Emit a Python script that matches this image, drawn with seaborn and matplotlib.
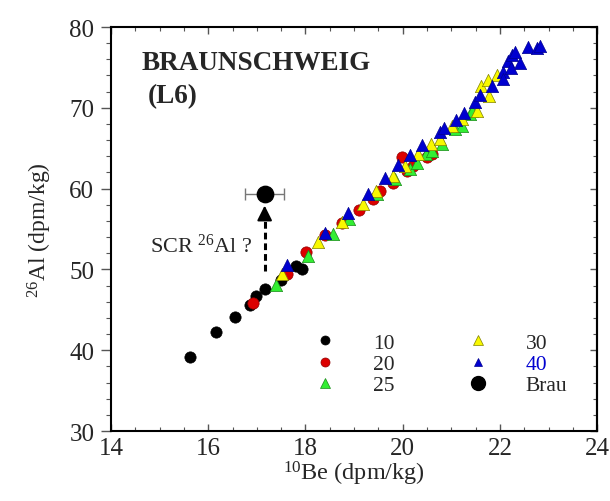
import matplotlib
matplotlib.use("Agg")
import matplotlib.pyplot as plt
from matplotlib.lines import Line2D
import seaborn as sns

# ---- data (10Be, 26Al in dpm/kg) ----
be_10 = [15.63, 16.16, 16.54, 16.85, 16.98, 17.16, 17.50, 17.80, 17.92]
al_10 = [39.2, 42.2, 44.1, 45.6, 46.7, 47.6, 48.7, 50.4, 50.1]

be_20 = [16.93, 17.63, 18.02, 18.41, 18.76, 19.11, 19.38, 19.53, 19.80, 19.98, 20.08, 20.22, 20.49, 20.60]
al_20 = [45.9, 49.4, 52.1, 54.2, 55.8, 57.3, 58.7, 59.7, 60.7, 63.9, 62.2, 62.8, 63.9, 64.3]

be_25 = [17.39, 18.05, 18.56, 18.90, 19.47, 19.84, 20.15, 20.29, 20.48, 20.60, 20.80, 21.08, 21.22, 21.39, 21.42]
al_25 = [48.1, 51.6, 54.4, 56.3, 59.3, 61.2, 62.4, 63.2, 64.3, 64.7, 65.5, 67.4, 67.8, 69.2, 69.6]

be_30 = [17.52, 18.25, 18.76, 19.19, 19.45, 19.81, 20.05, 20.32, 20.58, 20.76, 21.01, 21.21, 21.53, 21.62, 21.76, 21.78, 21.93]
al_30 = [49.4, 53.4, 55.9, 58.1, 59.7, 61.6, 62.8, 64.3, 65.5, 66.1, 67.8, 68.6, 69.6, 72.7, 73.4, 71.5, 74.0]

be_40 = [17.63, 18.41, 18.87, 19.28, 19.64, 19.91, 20.15, 20.39, 20.77, 20.84, 21.10, 21.26, 21.49, 21.59,
         21.83, 22.06, 22.07, 22.17, 22.24, 22.31, 22.42, 22.22, 22.57, 22.77, 22.83]
al_40 = [50.6, 54.5, 57.0, 59.3, 61.3, 62.9, 64.1, 65.4, 67.0, 67.5, 68.5, 69.4, 70.7, 71.6,
         72.7, 74.4, 73.6, 75.8, 76.5, 76.9, 75.5, 74.9, 77.5, 77.4, 77.6]

brau_be = [17.16]
brau_al = [59.3]
brau_be_err = 0.40

arrow_be = 17.16
arrow_from = 49.8
arrow_to = 57.9

legend_labels = ["10", "20", "25", "30", "40", "Brau"]

# ---- style ----
sns.set_style("ticks")
plt.rcParams["font.family"] = ["Liberation Serif", "DejaVu Serif"]
plt.rcParams["mathtext.fontset"] = "custom"
plt.rcParams["mathtext.rm"] = "Liberation Serif"
plt.rcParams["mathtext.it"] = "Liberation Serif:italic"
plt.rcParams["mathtext.bf"] = "Liberation Serif:bold"

fig = plt.figure(figsize=(6.10, 5.02), dpi=100)
ax = fig.add_axes([0.182, 0.1394, 0.797, 0.8048])

red, red_e = "#dc0000", "#900000"
green, green_e = "#33ee33", "#1a8a1a"
yellow, yellow_e = "#f8f800", "#808000"
blue, blue_e = "#0000d0", "#000090"

sns.scatterplot(x=be_10, y=al_10, ax=ax, color="black", marker="o", s=66, edgecolor="black", linewidth=0.5, legend=False, zorder=3)
sns.scatterplot(x=be_20, y=al_20, ax=ax, color=red, marker="o", s=66, edgecolor=red_e, linewidth=0.5, legend=False, zorder=3)
sns.scatterplot(x=be_25, y=al_25, ax=ax, color=green, marker="^", s=78, edgecolor=green_e, linewidth=0.5, legend=False, zorder=3)
sns.scatterplot(x=be_30, y=al_30, ax=ax, color=yellow, marker="^", s=78, edgecolor=yellow_e, linewidth=0.5, legend=False, zorder=3)
sns.scatterplot(x=be_40, y=al_40, ax=ax, color=blue, marker="^", s=78, edgecolor=blue_e, linewidth=0.5, legend=False, zorder=3)

# Brau point with horizontal error bar
ax.errorbar(brau_be, brau_al, xerr=brau_be_err, fmt="none", ecolor="#777777", elinewidth=1.0, capsize=4, capthick=1.0, zorder=2)
sns.scatterplot(x=brau_be, y=brau_al, ax=ax, color="black", marker="o", s=140, edgecolor="black", legend=False, zorder=4)

# dashed arrow
ax.plot([arrow_be, arrow_be], [arrow_from, arrow_to - 1.6], color="black", lw=2.2, ls=(0, (2.2, 1.3)), zorder=2)
ax.annotate("", xy=(arrow_be, arrow_to), xytext=(arrow_be, arrow_to - 1.8),
            arrowprops=dict(arrowstyle="-|>,head_length=0.9,head_width=0.45", color="black", lw=1.5, shrinkA=0, shrinkB=0))

ax.text(14.80, 53.0, "SCR $^{26}$Al ?", fontsize=16, va="center", ha="left")

ax.text(0.063, 0.896, "BRAUNSCHWEIG", transform=ax.transAxes, fontsize=19.5, fontweight="bold", va="baseline", ha="left")
ax.text(0.076, 0.814, "(L6)", transform=ax.transAxes, fontsize=19.5, fontweight="bold", va="baseline", ha="left")

# axes
ax.set_xlim(14, 24)
ax.set_ylim(30, 80)
ax.set_xticks([14, 16, 18, 20, 22, 24])
ax.set_xticks([14 + 0.5 * i for i in range(21)], minor=True)
ax.set_yticks([30, 40, 50, 60, 70, 80])
ax.set_yticks([30 + 2 * i for i in range(26)], minor=True)
ax.set_xlabel("$^{10}$Be (dpm/kg)", fontsize=17.5, labelpad=0)
ax.set_ylabel("$^{26}$Al (dpm/kg)", fontsize=17, labelpad=11)

for sp in ax.spines.values():
    sp.set_linewidth(1.5)
    sp.set_color("black")

ax.tick_params(axis="x", which="both", direction="in", top=True, bottom=True, labelsize=18, pad=4, color="#555555")
ax.tick_params(axis="x", which="major", length=5, width=1)
ax.tick_params(axis="x", which="minor", length=3, width=0.8)
ax.tick_params(axis="y", which="both", direction="out", left=True, right=False, labelsize=18, pad=5, color="#555555")
ax.tick_params(axis="y", which="major", length=7, width=1)
ax.tick_params(axis="y", which="minor", length=3.5, width=0.8)

sec = ax.secondary_yaxis("right")
sec.set_yticks([30, 40, 50, 60, 70, 80])
sec.set_yticks([30 + 2 * i for i in range(26)], minor=True)
sec.tick_params(axis="y", which="both", direction="in", labelright=False, color="#555555")
sec.tick_params(axis="y", which="major", length=5, width=1)
sec.tick_params(axis="y", which="minor", length=3, width=0.8)
sec.spines["right"].set_linewidth(1.5)

# legend
handles = [
    Line2D([], [], ls="none", marker="o", ms=6.5, mfc="black", mec="black", mew=0.5),
    Line2D([], [], ls="none", marker="o", ms=6.5, mfc=red, mec=red_e, mew=0.5),
    Line2D([], [], ls="none", marker="^", ms=7, mfc=green, mec=green_e, mew=0.5),
    Line2D([], [], ls="none", marker="^", ms=7, mfc=yellow, mec=yellow_e, mew=0.5),
    Line2D([], [], ls="none", marker="^", ms=6, mfc=blue, mec=blue_e, mew=0.5),
    Line2D([], [], ls="none", marker="o", ms=10, mfc="black", mec="black"),
]
leg = ax.legend(handles, legend_labels, ncol=2, frameon=False, fontsize=15.5,
                loc="upper left", bbox_to_anchor=(0.419, 0.243), borderpad=0, borderaxespad=0,
                handlelength=1.0, handletextpad=1.7, columnspacing=3.4, labelspacing=0.05)
leg.get_texts()[4].set_color(blue)

fig.savefig("out.png", dpi=100)
